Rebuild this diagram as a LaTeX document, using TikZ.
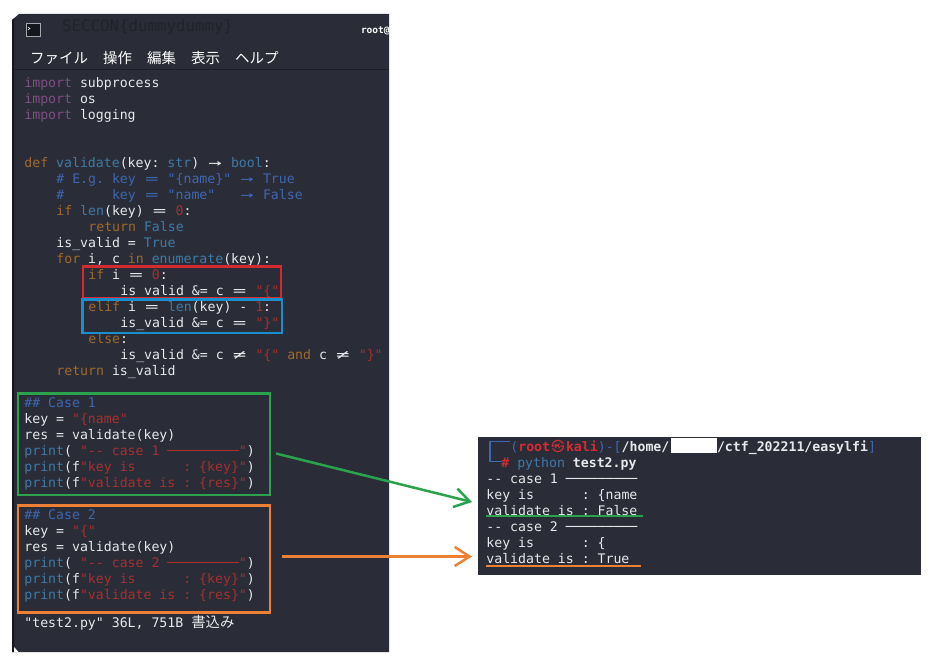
\documentclass[tikz,border=0pt]{standalone}
\usepackage{fontspec}
\setmainfont{DejaVu Sans}
\newfontfamily\codefont{DejaVu Sans Mono}
\newfontfamily\jpfont{Noto Sans CJK JP}
\usetikzlibrary{arrows.meta}
\definecolor{panel}{HTML}{2A2D37}
\definecolor{edgec}{HTML}{16171C}
\definecolor{plain}{HTML}{E6E8EC}
\definecolor{kwd}{HTML}{7D4F85}
\definecolor{kwo}{HTML}{A0682C}
\definecolor{fnc}{HTML}{3E7AA6}
\definecolor{cmt}{HTML}{3F66B0}
\definecolor{strc}{HTML}{A5302F}
\definecolor{mred}{HTML}{D42B33}
\definecolor{mblue}{HTML}{1B8FCC}
\definecolor{mgreen}{HTML}{2BA24C}
\definecolor{morange}{HTML}{EE8033}
\newcommand{\Kw}[1]{\textcolor{kwd}{#1}}
\newcommand{\Ok}[1]{\textcolor{kwo}{#1}}
\newcommand{\Fn}[1]{\textcolor{fnc}{#1}}
\newcommand{\Cm}[1]{\textcolor{cmt}{#1}}
\newcommand{\St}[1]{\textcolor{strc}{#1}}
% two-cell ligatures of the terminal font
\newcommand{\LigEq}{\makebox[15.9pt]{\scalebox{1.7}[1]{=}}}
\newcommand{\LigArr}{\makebox[15.9pt]{\scalebox{1.7}[1]{→}}}
\newcommand{\LigNe}{\makebox[15.9pt]{\scalebox{1.7}[1]{≠}}}
\tikzset{
  codeline/.style={anchor=base west,inner sep=0pt,outer sep=0pt,text=plain,font=\codefont\fontsize{13.2}{16}\selectfont},
  menuitem/.style={anchor=base west,inner sep=0pt,text=white,font=\jpfont\fontsize{14.5}{16}\selectfont},
  markbox/.style={draw=#1,line width=2.8pt},
  markline/.style={draw=#1,line width=2.6pt},
  markarrow/.style={draw=#1,line width=2.5pt,-{Straight Barb[length=15pt,width=19pt,line width=2.5pt]}},
}
\begin{document}
\frenchspacing
\begin{tikzpicture}[x=1pt,y=-1pt]
\useasboundingbox (0,0) rectangle (931,658);
\fill[white] (0,0) rectangle (931,658);
% window
\fill[panel] (12,20) -- (19,14) -- (389,14) -- (389,652) -- (12,652) -- cycle;
\fill[edgec] (12,20) -- (14,18.5) -- (14,652) -- (12,652) -- cycle;
\fill[white] (14,647) -- (18.5,652) -- (14,652) -- cycle;
\draw[edgec!60!panel,line width=.6pt] (14,69) -- (389,69);
% title bar
\draw[fill=edgec,draw=plain!65!panel,line width=1pt] (26,23.5) rectangle (40,36.5);
\draw[plain,line width=.6pt] (28,27) -- (30,28.5) -- (28,30);
\node[codeline,text=edgec!45!panel,font=\codefont\fontsize{15.8}{16}\selectfont] (flag) at (62,32) {SECCON\{dummydummy\}};
\begin{scope}
\clip (12,14) rectangle (389,652);
\node[codeline,text=white,font=\codefont\bfseries\fontsize{9.5}{12}\selectfont] (ttl) at (361,34) {root@kali};
\end{scope}
\node[menuitem] (m1) at (30,64) {ファイル};
\node[menuitem] (m2) at (103,64) {操作};
\node[menuitem] (m3) at (147,64) {編集};
\node[menuitem] (m4) at (191,64) {表示};
\node[menuitem] (m5) at (235,64) {ヘルプ};
% code
\begin{scope}[shift={(-0.6,0.7)}]
\node[codeline] (l1) at (25,87) {\Kw{import}~subprocess};
\node[codeline] (l2) at (25,103) {\Kw{import}~os};
\node[codeline] (l3) at (25,119) {\Kw{import}~logging};
\node[codeline] (l4) at (25,167) {\Ok{def}~\Fn{validate}(key:~\Fn{str})~\LigArr~\Fn{bool}:};
\node[codeline] (l5) at (57,183) {\Cm{\#~E.g.~key~\LigEq~"\{name\}"~\LigArr~True}};
\node[codeline] (l6) at (57,199) {\Cm{\#~~~~~~key~\LigEq~"name"~~~\LigArr~False}};
\node[codeline] (l7) at (57,215) {\Ok{if}~\Fn{len}(key)~\LigEq~\St{0}:};
\node[codeline] (l8) at (89,231) {\Ok{return}~\Fn{False}};
\node[codeline] (l9) at (57,247) {is\_valid~=~\Fn{True}};
\node[codeline] (l10) at (57,263) {\Ok{for}~i,~c~\Ok{in}~\Fn{enumerate}(key):};
\node[codeline] (l11) at (89,279) {\Ok{if}~i~\LigEq~\St{0}:};
\node[codeline] (l12) at (121,295) {is\_valid~\&=~c~\LigEq~\St{"\{"}};
\node[codeline] (l13) at (89,311) {\Ok{elif}~i~\LigEq~\Fn{len}(key)~-~\St{1}:};
\node[codeline] (l14) at (121,327) {is\_valid~\&=~c~\LigEq~\St{"\}"}};
\node[codeline] (l15) at (89,343) {\Ok{else}:};
\node[codeline] (l16) at (121,359) {is\_valid~\&=~c~\LigNe~\St{"\{"}~\Ok{and}~c~\LigNe~\St{"\}"}};
\node[codeline] (l17) at (57,375) {\Ok{return}~is\_valid};
\node[codeline] (c1) at (25,407) {\Cm{\#\#~Case~1}};
\node[codeline] (c2) at (25,423) {key~=~\St{"\{name"}};
\node[codeline] (c3) at (25,439) {res~=~validate(key)};
\node[codeline] (c4) at (25,455) {\Fn{print}(~\St{"-{}-~case~1~─────────"})};
\node[codeline] (c5) at (25,471) {\Fn{print}(f\St{"key~is~~~~~~:~\{key\}"})};
\node[codeline] (c6) at (25,487) {\Fn{print}(f\St{"validate~is~:~\{res\}"})};
\node[codeline] (d1) at (25,519) {\Cm{\#\#~Case~2}};
\node[codeline] (d2) at (25,535) {key~=~\St{"\{"}};
\node[codeline] (d3) at (25,551) {res~=~validate(key)};
\node[codeline] (d4) at (25,567) {\Fn{print}(~\St{"-{}-~case~2~─────────"})};
\node[codeline] (d5) at (25,583) {\Fn{print}(f\St{"key~is~~~~~~:~\{key\}"})};
\node[codeline] (d6) at (25,599) {\Fn{print}(f\St{"validate~is~:~\{res\}"})};
\node[codeline] (st) at (25,627) {"test2.py"~36L,~751B~{\jpfont\fontsize{14.4}{16}\selectfont 書込み}};
\end{scope}
% marks on the code
\draw[markbox=mred] (83,266.5) rectangle (281,298);
\draw[markbox=mblue] (82.5,299.5) rectangle (282,333);
\draw[markbox=mgreen] (18,393.5) rectangle (270,495);
\draw[markbox=morange] (18,505.5) rectangle (270,612.5);
% output terminal
\fill[panel] (478,437) rectangle (921,575);
\draw[cmt,line width=1.1pt] (510,441.5) -- (490,441.5) -- (490,461.5) -- (502,461.5);
\begin{scope}[shift={(-0.6,0.3)}]
\node[codeline] (t1) at (511,451) {\textcolor{cmt}{(}\textcolor{mred}{\bfseries root\makebox[15.9pt]{\jpfont ㉿}kali}\textcolor{cmt}{)-[}\textbf{/home/~~~~~~/ctf\_202211/easylfi}\textcolor{cmt}{]}};
\node[codeline] (t2) at (502,467) {\textcolor{mred}{\bfseries\#}~\Fn{python}~\textbf{test2.py}};
\node[codeline] (t3) at (487,483) {-{}-~case~1~─────────};
\node[codeline] (t4) at (487,499) {key~is~~~~~~:~\{name};
\node[codeline] (t5) at (487,515) {validate~is~:~False};
\node[codeline] (t6) at (487,531) {-{}-~case~2~─────────};
\node[codeline] (t7) at (487,547) {key~is~~~~~~:~\{};
\node[codeline] (t8) at (487,563) {validate~is~:~True};
\end{scope}
\fill[white] (671,438) rectangle (717,453);
\coordinate (ga) at (486,516);
\coordinate (gb) at (643,516);
\coordinate (oa) at (486,566);
\coordinate (ob) at (641,566);
\draw[markline=mgreen] (ga) -- (gb);
\draw[markline=morange] (oa) -- (ob);
% arrows
\coordinate (gs) at (276,453.5);
\coordinate (ge) at (472,502);
\coordinate (os) at (282,556.5);
\coordinate (oe) at (472,556.5);
\draw[markarrow=mgreen] (gs) -- (ge);
\draw[markarrow=morange] (os) -- (oe);
\end{tikzpicture}
\end{document}
